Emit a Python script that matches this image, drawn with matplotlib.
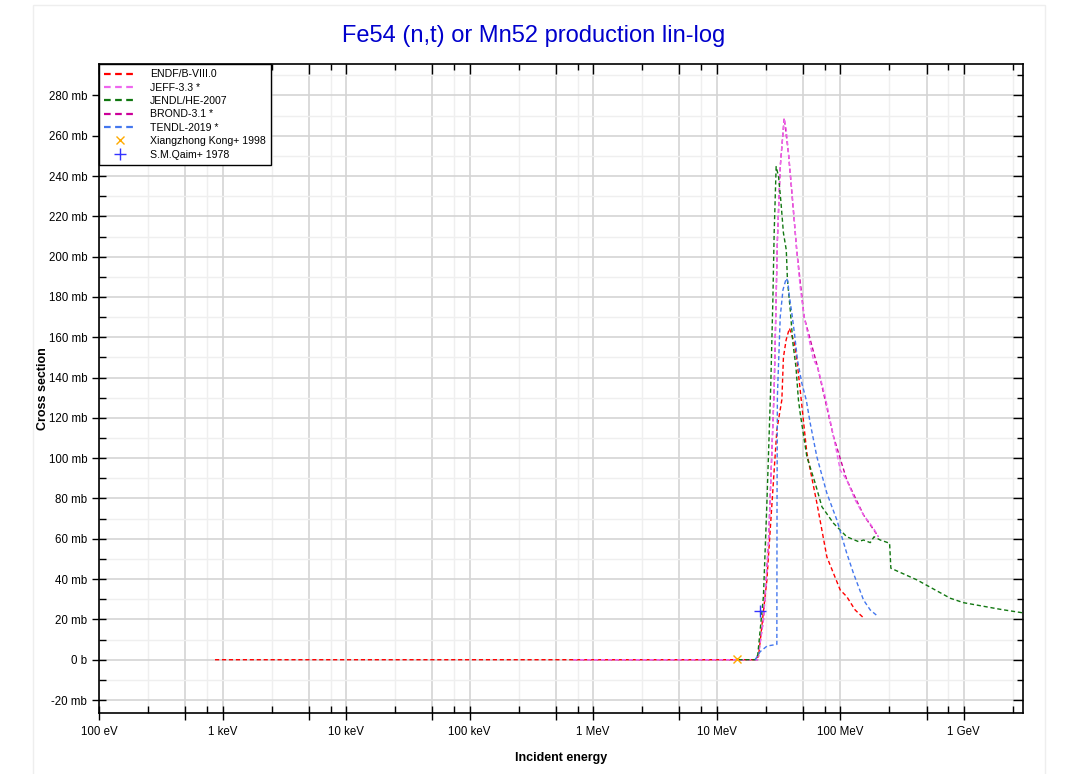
import numpy as np
import matplotlib.pyplot as plt
from matplotlib.ticker import FixedLocator, FixedFormatter, NullFormatter
from matplotlib.patches import Rectangle

plt.rcParams['font.family'] = ['Liberation Sans', 'DejaVu Sans']

# energies in eV, cross sections in mb
endf_e = [870, 19.8e6, 21.8e6, 25.5e6, 30.7e6, 33.7e6, 34.7e6, 36.5e6, 38.8e6, 42.6e6,
          44.6e6, 47.4e6, 53.7e6, 64.7e6, 78e6, 100e6, 113e6, 132e6, 153e6]
endf_xs = [0, 0, 1.5, 39.6, 114, 129, 150, 158.7, 164.5, 157,
           148.7, 134, 102.6, 77.8, 51, 34.6, 31.3, 24.7, 21]

jeff_e = [0.69e6, 21.5e6, 23.9e6, 26.2e6, 29.2e6, 31.0e6, 32.7e6, 35.2e6, 36.6e6, 38.1e6,
          40.6e6, 44.5e6, 47.4e6, 51.1e6, 60.8e6, 65.5e6, 75.6e6, 88.3e6, 100e6, 113e6,
          132e6, 154.5e6, 186e6, 204e6]
jeff_xs = [0, 0, 19.7, 56, 134, 208, 244.7, 268.7, 262.9, 251.5,
           233, 203, 185, 170, 148.7, 145.4, 130.5, 110.7, 94.1, 89.2,
           79.3, 71.8, 65.2, 61]

jendl_e = [15e6, 20.5e6, 21.5e6, 23.9e6, 25.5e6, 27.4e6, 28.5e6, 29.2e6, 30.3e6, 31.7e6,
           33.1e6, 34.7e6, 36.6e6, 37.4e6, 39.4e6, 41.4e6, 43.8e6, 45.9e6, 47.4e6, 53.7e6,
           62.8e6, 71.1e6, 88.3e6, 113e6, 140.6e6, 154.5e6, 175e6, 188e6, 211e6, 251e6,
           257e6, 418e6, 778e6, 996e6, 1.98e9, 3.2e9]
jendl_xs = [0, 0, 2.3, 31.3, 77.8, 136, 178.5, 211.8, 244.7, 239.7,
            227.4, 211.8, 203.3, 188.4, 173.6, 157.2, 145.4, 128.9, 122.4, 100.7,
            87.5, 75.9, 67.7, 61, 58.6, 59.4, 58.1, 61, 59.4, 57.8,
            45.4, 39.6, 30.5, 28.3, 25, 23]

brond_e = [0.69e6, 21.5e6, 23.9e6, 26.2e6, 29.2e6, 31.0e6, 32.7e6, 35.2e6, 38.1e6, 44.5e6,
           51.1e6, 65.5e6, 88.3e6, 113e6, 154.5e6, 204e6]
brond_xs = [0, 0, 19.7, 56, 134, 208, 244.7, 268.7, 251.5, 203,
            170, 145.4, 110.7, 89.2, 71.8, 61]

tendl_e = [20.5e6, 22.5e6, 25.6e6, 30.7e6, 30.8e6, 31.0e6, 32.7e6, 34.4e6, 36.6e6, 37.7e6,
           38.8e6, 40.6e6, 42.6e6, 45.1e6, 48.9e6, 53.1e6, 57.2e6, 64.7e6, 78e6, 94e6,
           113e6, 128e6, 154.5e6, 175e6, 200e6]
tendl_xs = [0, 4, 6.8, 7.6, 78, 130.5, 170.2, 183.5, 189.3, 187.6,
            180.2, 171.9, 162, 148.7, 137.2, 128.9, 117.3, 100.7, 82.6, 69.3,
            52.8, 42.9, 29.6, 24.7, 21.7]

kong_e = [14.7e6]
kong_xs = [0.2]
qaim_e = [22.5e6]
qaim_xs = [24.2]

x_major = [1e2, 5e2, 1e3, 5e3, 1e4, 5e4, 1e5, 5e5, 1e6, 5e6, 1e7, 5e7, 1e8, 5e8, 1e9]
x_labels = ['100 eV', '', '1 keV', '', '10 keV', '', '100 keV', '', '1 MeV', '',
            '10 MeV', '', '100 MeV', '', '1 GeV']
x_minor = [2.5e2, 7.5e2, 2.5e3, 7.5e3, 2.5e4, 7.5e4, 2.5e5, 7.5e5, 2.5e6, 7.5e6,
           2.5e7, 7.5e7, 2.5e8, 7.5e8, 2.5e9]
y_major = [-20, 0, 20, 40, 60, 80, 100, 120, 140, 160, 180, 200, 220, 240, 260, 280]
y_labels = ['-20 mb', '0 b', '20 mb', '40 mb', '60 mb', '80 mb', '100 mb', '120 mb', '140 mb',
            '160 mb', '180 mb', '200 mb', '220 mb', '240 mb', '260 mb', '280 mb']
y_minor = list(np.arange(-20, 300, 10))

XLIM = (1e2, 3e9)
YLIM = (-26.6, 295.6)
POS = [0.0924, 0.0784, 0.8625, 0.8389]

fig = plt.figure(figsize=(10.71, 7.74), dpi=100)
ax = fig.add_axes(POS)

fig.patches.append(Rectangle((0.031, -0.01), 0.945, 1.003, transform=fig.transFigure,
                             fill=False, edgecolor='#eeeeee', lw=1, zorder=-5))

dash = (0, (3, 2))
ax.plot(brond_e, brond_xs, color='#cc0099', lw=1, ls=dash, zorder=2, label='BROND-3.1 *')
ax.plot(endf_e, endf_xs, color='#ff0000', lw=1, ls=dash, zorder=3, label='ENDF/B-VIII.0')
ax.plot(jeff_e, jeff_xs, color='#ee66ee', lw=1, ls=dash, zorder=4, label='JEFF-3.3 *')
ax.plot(jendl_e, jendl_xs, color='#117711', lw=1, ls=dash, zorder=5, label='JENDL/HE-2007')
ax.plot(tendl_e, tendl_xs, color='#4477ee', lw=1, ls=dash, zorder=6, label='TENDL-2019 *')
ax.plot(kong_e, kong_xs, ls='none', marker='x', ms=6, mew=1, color='#ffaa00', zorder=7,
        label='Xiangzhong Kong+ 1998')
ax.plot(qaim_e, qaim_xs, ls='none', marker='+', ms=9, mew=1, color='#3333ff', zorder=7,
        label='S.M.Qaim+ 1978')

ax.set_xscale('log')
ax.set_xlim(*XLIM)
ax.set_ylim(*YLIM)

ax.xaxis.set_major_locator(FixedLocator(x_major))
ax.xaxis.set_major_formatter(FixedFormatter(x_labels))
ax.xaxis.set_minor_locator(FixedLocator(x_minor))
ax.xaxis.set_minor_formatter(NullFormatter())
ax.yaxis.set_major_locator(FixedLocator(y_major))
ax.yaxis.set_major_formatter(FixedFormatter(y_labels))
ax.yaxis.set_minor_locator(FixedLocator(y_minor))

ax.tick_params(which='major', direction='inout', length=10, width=1, labelsize=8.3,
               top=False, right=False, color='black')
ax.tick_params(which='minor', direction='in', length=5, width=1, top=False, right=False)
ax.tick_params(axis='x', which='major', pad=4)

ax.grid(which='major', color='#d4d4d4', lw=1.2)
ax.grid(which='minor', color='#efefef', lw=1)
ax.set_axisbelow(True)
for s in ax.spines.values():
    s.set_linewidth(1.2)

# overlay axes for the mirrored ticks on top and right, pointing inwards
ov = fig.add_axes(POS, frameon=False, zorder=ax.get_zorder() + 1)
ov.patch.set_visible(False)
ov.set_xscale('log')
ov.set_xlim(*XLIM)
ov.set_ylim(*YLIM)
ov.xaxis.set_major_locator(FixedLocator(x_major))
ov.xaxis.set_minor_locator(FixedLocator(x_minor))
ov.yaxis.set_major_locator(FixedLocator(y_major))
ov.yaxis.set_minor_locator(FixedLocator(y_minor))
ov.tick_params(which='both', bottom=False, left=False, top=True, right=True,
               labelbottom=False, labelleft=False, direction='in', width=1, color='black')
ov.tick_params(which='major', length=7)
ov.tick_params(which='minor', length=4)

ax.set_xlabel('Incident energy', fontsize=9, fontweight='bold', labelpad=10)
ax.set_ylabel('Cross section', fontsize=9, fontweight='bold', labelpad=0)
fig.text(0.498, 0.953, 'Fe54 (n,t) or Mn52 production lin-log', color='#0000cc',
         fontsize=17, ha='center', va='center')

handles, labels = ax.get_legend_handles_labels()
order = ['ENDF/B-VIII.0', 'JEFF-3.3 *', 'JENDL/HE-2007', 'BROND-3.1 *', 'TENDL-2019 *',
         'Xiangzhong Kong+ 1998', 'S.M.Qaim+ 1978']
hmap = dict(zip(labels, handles))
leg = ov.legend([hmap[k] for k in order], order, loc='upper left', bbox_to_anchor=(0, 1),
                fontsize=7.6, frameon=True, fancybox=False, edgecolor='black',
                handlelength=3.0, labelspacing=0.32, borderpad=0.5, borderaxespad=0,
                handletextpad=1.3, framealpha=1)
leg.get_frame().set_linewidth(1)
for line in leg.get_lines()[:5]:
    line.set_linewidth(1.6)

fig.savefig('out.png', dpi=100, facecolor='white')
